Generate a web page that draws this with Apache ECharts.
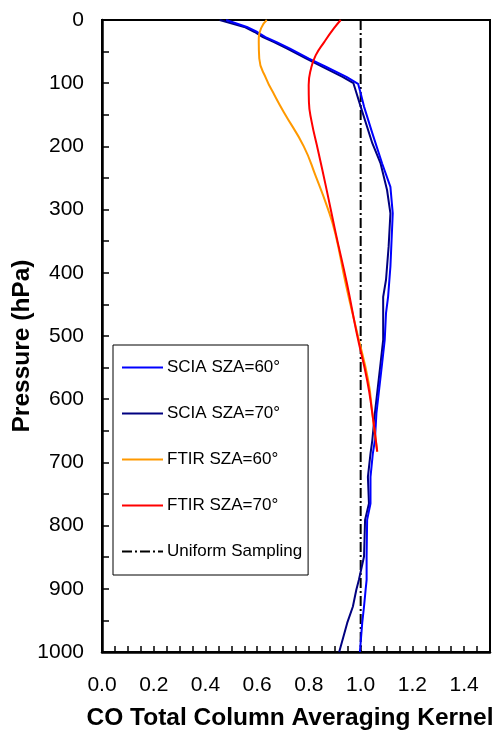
<!DOCTYPE html>
<html>
<head>
<meta charset="utf-8">
<script src="https://cdn.jsdelivr.net/npm/echarts@6/dist/echarts.min.js"></script>
<style>
html,body{margin:0;padding:0;background:#fff;}
#chart{width:496px;height:730px;}
</style>
</head>
<body>
<div id="chart"></div>
<script>
// Pressure levels (hPa) and averaging kernel values
const sciaP60 = [0, 11, 19, 27, 35, 45, 61, 74, 90, 101, 116, 137, 179, 227, 264, 306, 390, 438, 464, 506, 543, 622, 665, 686, 723, 765, 791, 849, 886, 902, 928, 954, 1000];
const sciaK60 = [0.48, 0.56, 0.60, 0.632, 0.675, 0.725, 0.80, 0.865, 0.945, 0.99, 1.0, 1.013, 1.045, 1.083, 1.115, 1.124, 1.115, 1.106, 1.098, 1.093, 1.083, 1.061, 1.055, 1.047, 1.038, 1.038, 1.025, 1.023, 1.023, 1.019, 1.013, 1.006, 0.997];

const sciaP70 = [0, 11, 19, 27, 35, 45, 61, 74, 90, 100, 108, 137, 195, 227, 269, 306, 359, 411, 438, 506, 543, 622, 665, 686, 723, 765, 791, 849, 886, 902, 928, 954, 1000];
const sciaK70 = [0.455, 0.55, 0.59, 0.622, 0.665, 0.714, 0.79, 0.853, 0.93, 0.972, 0.978, 1.0, 1.045, 1.077, 1.102, 1.115, 1.108, 1.098, 1.087, 1.087, 1.077, 1.055, 1.045, 1.038, 1.028, 1.032, 1.017, 1.013, 0.993, 0.983, 0.97, 0.948, 0.917];

const ftirP60 = [0, 13, 35, 61, 93, 119, 146, 200, 248, 295, 338, 417, 496, 570, 622, 683];
const ftirK60 = [0.637, 0.615, 0.606, 0.608, 0.635, 0.667, 0.703, 0.780, 0.827, 0.870, 0.902, 0.942, 0.987, 1.029, 1.045, 1.064];

const ftirP70 = [0, 13, 35, 56, 77, 103, 130, 160, 206, 264, 338, 417, 496, 570, 622, 683];
const ftirK70 = [0.923, 0.897, 0.859, 0.826, 0.808, 0.799, 0.800, 0.810, 0.835, 0.866, 0.904, 0.947, 0.985, 1.025, 1.045, 1.064];

const uniformP = [0, 1000];
const uniformK = [1.0, 1.0];

const xTickLabels = ['0.0', '0.2', '0.4', '0.6', '0.8', '1.0', '1.2', '1.4'];
const yTickLabels = ['0', '100', '200', '300', '400', '500', '600', '700', '800', '900', '1000'];

const names = ['SCIA SZA=60°', 'SCIA SZA=70°', 'FTIR SZA=60°', 'FTIR SZA=70°', 'Uniform Sampling'];

function pairs(k, p) { return k.map((v, i) => [v, p[i]]); }

const FONT = "'Liberation Sans', Arial, sans-serif";
const chart = echarts.init(document.getElementById('chart'), null, {renderer: 'canvas'});

chart.setOption({
  animation: false,
  backgroundColor: '#fff',
  grid: {left: 102, right: 6, top: 20, bottom: 78, containLabel: false, outerBoundsMode: 'none',
         show: true, borderColor: '#000', borderWidth: 2, backgroundColor: 'transparent'},
  legend: {
    orient: 'vertical',
    left: 113, top: 345,
    padding: [14, 6, 15, 8],
    itemWidth: 41, itemHeight: 17, itemGap: 29,
    borderColor: '#000', borderWidth: 1,
    backgroundColor: '#fff',
    itemStyle: {opacity: 0},
    textStyle: {fontSize: 17, color: '#000', fontFamily: FONT, padding: [0, 0, 0, -1]},
    data: names
  },
  xAxis: {
    type: 'value', min: 0, max: 1.5, interval: 0.05,
    name: 'CO Total Column Averaging Kernel',
    nameLocation: 'middle', nameGap: 54, nameMoveOverlap: false,
    nameTextStyle: {fontSize: 24.5, fontWeight: 'bold', color: '#000', fontFamily: FONT, padding: [0, 12, 0, 0]},
    axisLine: {show: true, onZero: false, lineStyle: {color: '#000', width: 2.5}},
    axisTick: {show: true, inside: true, length: 6, lineStyle: {color: '#000', width: 1.5}},
    axisLabel: {
      fontSize: 21, color: '#000', fontFamily: FONT, margin: 23,
      formatter: function (v) {
        const r = Math.round(v * 20);
        if (r % 4 === 0) { const idx = r / 4; return xTickLabels[idx] !== undefined ? xTickLabels[idx] : ''; }
        return '';
      }
    },
    splitLine: {show: false}
  },
  yAxis: {
    type: 'value', min: 0, max: 1000, interval: 50, inverse: true,
    name: 'Pressure (hPa)',
    nameLocation: 'middle', nameGap: 67, nameMoveOverlap: false,
    nameTextStyle: {fontSize: 24.5, fontWeight: 'bold', color: '#000', fontFamily: FONT, padding: [0, 20, 0, 0]},
    axisLine: {show: true, onZero: false, lineStyle: {color: '#000', width: 2.5}},
    axisTick: {show: true, inside: true, length: 7, lineStyle: {color: '#000', width: 1.5}},
    axisLabel: {
      fontSize: 21, color: '#000', fontFamily: FONT, margin: 18,
      formatter: function (v) {
        const r = Math.round(v);
        if (r % 100 === 0) { return yTickLabels[r / 100] || ''; }
        return '';
      }
    },
    splitLine: {show: false}
  },
  series: [
    {name: names[4], type: 'line', data: pairs(uniformK, uniformP), symbol: 'none', z: 1,
     lineStyle: {color: '#000', width: 2, type: [10, 3, 2, 3]}, itemStyle: {color: '#000'}},
    {name: names[1], type: 'line', data: pairs(sciaK70, sciaP70), symbol: 'none', z: 2,
     lineStyle: {color: '#000080', width: 2}, itemStyle: {color: '#000080'}},
    {name: names[0], type: 'line', data: pairs(sciaK60, sciaP60), symbol: 'none', z: 3,
     lineStyle: {color: '#0000FF', width: 2}, itemStyle: {color: '#0000FF'}},
    {name: names[2], type: 'line', data: pairs(ftirK60, ftirP60), symbol: 'none', smooth: 0.5, z: 4,
     lineStyle: {color: '#FF9900', width: 2}, itemStyle: {color: '#FF9900'}},
    {name: names[3], type: 'line', data: pairs(ftirK70, ftirP70), symbol: 'none', smooth: 0.5, z: 5,
     lineStyle: {color: '#FF0000', width: 2}, itemStyle: {color: '#FF0000'}}
  ]
});
</script>
</body>
</html>
